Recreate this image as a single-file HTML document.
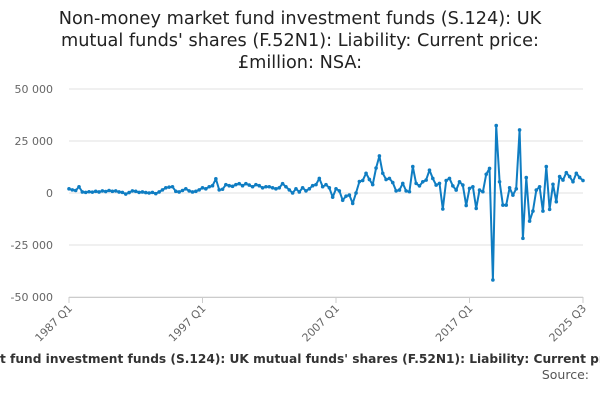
<!DOCTYPE html>
<html><head><meta charset="utf-8"><style>
html,body{margin:0;padding:0;background:#fff;width:600px;height:400px;overflow:hidden}
svg{display:block;font-family:"DejaVu Sans","Liberation Sans",sans-serif}
</style></head><body>
<svg id="chart" width="600" height="400" viewBox="0 0 600 400">
<g fill="#222" font-size="17.7" text-anchor="middle">
<text x="300" y="24">Non-money market fund investment funds (S.124): UK</text>
<text x="300" y="46">mutual funds' shares (F.52N1): Liability: Current price:</text>
<text x="300" y="68">£million: NSA:</text>
</g>
<g id="grid"></g>
<g id="yaxis"></g>
<g id="xaxis"></g>
<g id="series"></g>
<text id="xtitle" x="0" y="363" font-size="12.2" font-weight="bold" fill="#333">Non-money market fund investment funds (S.124): UK mutual funds' shares (F.52N1): Liability: Current price: £million: NSA</text>
<text x="589" y="379" text-anchor="end" font-size="12.5" fill="#555">Source:</text>
</svg>
<script>
const yTicks = [50000, 25000, 0, -25000, -50000];
const yTickLabels = ["50 000", "25 000", "0", "-25 000", "-50 000"];
const xTickIndex = [0, 40, 80, 120, 154];
const xTickLabels = ["1987 Q1", "1997 Q1", "2007 Q1", "2017 Q1", "2025 Q3"];
const values = [
2000,1500,1200,3000, 500,300,600,400, 800,500,1000,700, 1200,800,1000,500,
300,-500,200,1000, 800,300,500,200, 0,300,-300,500, 1500,2500,2800,3000,
800,500,1200,2000, 1000,500,800,1500,
2500,2000,3000,3500, 6800,1500,1800,4000, 3500,3200,4000,4500, 3500,4500,3800,3000, 4000,3500,2500,3000,
3000,2500,2000,2500, 4500,3000,1500,0, 2000,500,2500,1000, 2000,3500,4000,7000,
3000,4000,2500,-2000, 2000,1000,-3500,-1500, -1000,-5000,0,5500, 6000,9500,6500,4000,
12000,17800,9500,6500, 7000,5000,1000,
1400,4600,1000,600,12700,4600,3400,5400,6200,11000,7000,3800,4600,-7700,6000,7000,3400,1400,5400,3800,
-6000,2200,3000,-7400,1400,600,9000,11800,-41800,32400,5400,-5800,-5800,2500,-1000,2000,30300,-21800,7400,-13500,
-8700,1400,3000,-8700,12700,-7900,4200,-4200,7900,6200,9800,7900,5400,9500,7400,6000
];
const NS='http://www.w3.org/2000/svg';
const x0=69,x1=583,yTop=89,yBot=297;
const n=values.length;
function xs(i){return x0+(x1-x0)*i/(n-1);}
function ys(v){return yTop+(50000-v)/100000*(yBot-yTop);}
function mk(tag,attrs,parent){const e=document.createElementNS(NS,tag);for(const k in attrs)e.setAttribute(k,attrs[k]);parent.appendChild(e);return e;}
const grid=document.getElementById('grid'),ya=document.getElementById('yaxis'),xa=document.getElementById('xaxis'),ser=document.getElementById('series');
yTicks.forEach((t,i)=>{
  const l=mk('line',{x1:x0,x2:x1,y1:ys(t),y2:ys(t),stroke:'#e0e0e0','stroke-width':1},grid);
  
  
  const tx=mk('text',{x:53,y:ys(t)+4,'text-anchor':'end','font-size':11,fill:'#666'},ya);
  tx.textContent=yTickLabels[i];
  
  
});
const ax=mk('line',{x1:x0,x2:x1,y1:yBot+0.5,y2:yBot+0.5,stroke:'#ccc','stroke-width':1},xa);


xTickIndex.forEach((ix,i)=>{
  const x=xs(ix);
  const tk=mk('line',{x1:x,x2:x,y1:yBot,y2:yBot+6,stroke:'#ccc'},xa);
  
  
  const tx=mk('text',{x:x+4,y:yBot+12,'text-anchor':'end','font-size':11,fill:'#666',transform:`rotate(-45 ${x+4} ${yBot+12})`},xa);
  tx.textContent=xTickLabels[i];
  
  
});
const pts=values.map((v,i)=>xs(i).toFixed(1)+','+ys(v).toFixed(1)).join(' ');
const pl=mk('polyline',{points:pts,fill:'none',stroke:'#0f7dc2','stroke-width':2,'stroke-linejoin':'round'},ser);


values.forEach((v,i)=>{
  const c=mk('circle',{cx:xs(i),cy:ys(v),r:1.8,fill:'#0f7dc2'},ser);
  
  
});
try{
  const xt=document.getElementById('xtitle');
  const hidden=xt.getSubStringLength(0,15);
  xt.setAttribute('x',(0-hidden).toFixed(1));
}catch(e){}
</script>
</body></html>
